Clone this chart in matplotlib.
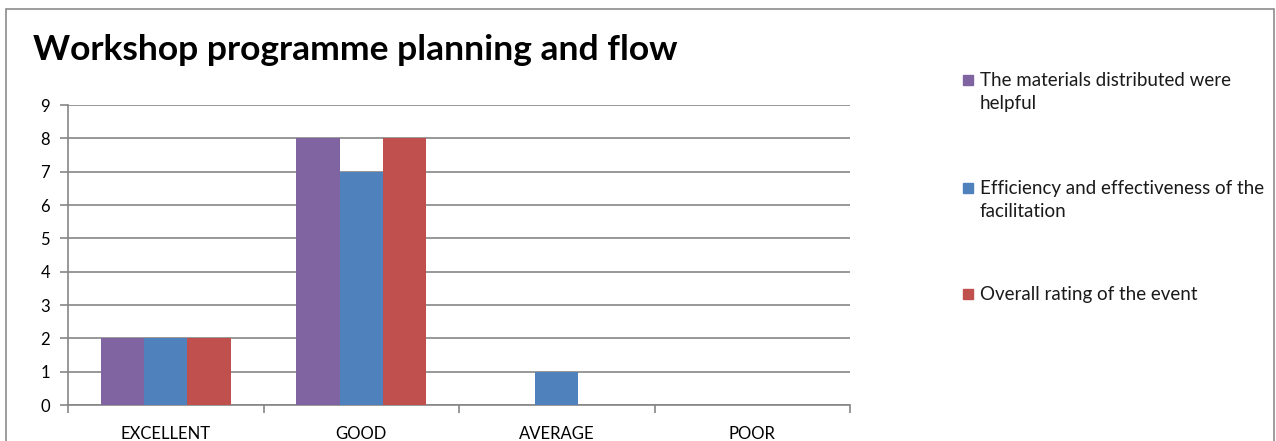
import numpy as np
import matplotlib
matplotlib.use('Agg')
import matplotlib.pyplot as plt
from matplotlib.patches import Rectangle

plt.rcParams['font.family'] = ['Lato', 'DejaVu Sans']

categories = ['EXCELLENT', 'GOOD', 'AVERAGE', 'POOR']
series_names = ['The materials distributed were\nhelpful',
                'Efficiency and effectiveness of the\nfacilitation',
                'Overall rating of the event']
materials = [2, 8, 0, 0]
facilitation = [2, 7, 1, 0]
overall = [2, 8, 0, 0]
colors = ['#8064A2', '#4F81BD', '#C0504D']

W, H = 1276, 441
fig = plt.figure(figsize=(W / 100, H / 100), dpi=100)
# outer chart frame
fig.patches.append(Rectangle((6 / W, -0.05), 1268 / W, 1.05 - 9 / H,
                             transform=fig.transFigure, fill=False,
                             edgecolor='#8c8c8c', linewidth=1.2))

ax = fig.add_axes([68 / W, 1 - 405 / H, (850 - 68) / W, 300 / H])

x = np.arange(len(categories))
w = 0.222
for k, vals in enumerate([materials, facilitation, overall]):
    ax.bar(x + (k - 1) * w, vals, width=w, color=colors[k], zorder=3)

ax.set_xlim(-0.5, len(categories) - 0.5)
ax.set_ylim(0, 9)
ax.set_yticks(range(10))
ax.yaxis.grid(True, color='#868686', linewidth=1.2, zorder=0)
for s in ['top', 'right']:
    ax.spines[s].set_visible(False)
for s in ['left', 'bottom']:
    ax.spines[s].set_color('#868686')
    ax.spines[s].set_linewidth(1.2)

ax.set_xticks(x)
ax.set_xticklabels(categories, fontsize=12)
ax.set_xticks(np.arange(-0.5, len(categories)), minor=True)
ax.tick_params(axis='x', which='major', length=0, pad=15)
ax.tick_params(axis='x', which='minor', length=6, color='#868686', width=1.2)
ax.tick_params(axis='y', length=6, color='#868686', width=1.2, labelsize=12, pad=7)

fig.text(33 / W, 1 - 50 / H, 'Workshop programme planning and flow',
         fontsize=25.5, fontweight='bold', va='center', ha='left')

# legend drawn by hand so the swatch lines up with the first text line
legend_y = [80, 188, 294]
for k, name in enumerate(series_names):
    yc = 1 - legend_y[k] / H
    fig.patches.append(Rectangle((963 / W, yc - 5 / H), 10 / W, 10 / H,
                                 transform=fig.transFigure, color=colors[k]))
    fig.text(980 / W, yc + 8 / H, name, fontsize=13.5, va='top', ha='left',
             linespacing=1.45, color='#1a1a1a')

fig.savefig('out.png', dpi=100)
